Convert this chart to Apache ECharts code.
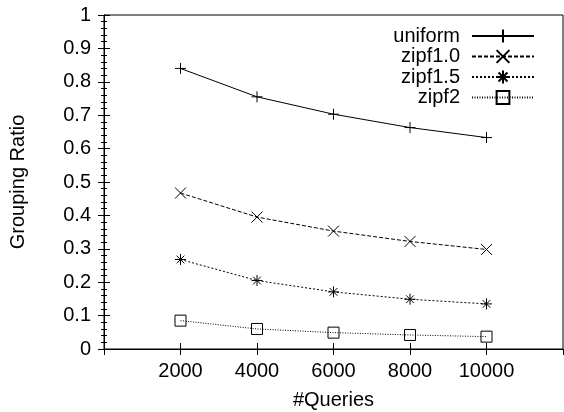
<!DOCTYPE html>
<html>
<head>
<meta charset="utf-8">
<script src="https://cdn.jsdelivr.net/npm/echarts@6/dist/echarts.min.js"></script>
<style>
  html, body { margin: 0; padding: 0; background: #fff; }
  #chart { width: 564px; height: 412px; }
</style>
</head>
<body>
<div id="chart"></div>
<script>
const queries = [2000, 4000, 6000, 8000, 10000];
const uniform = [0.840, 0.755, 0.703, 0.663, 0.633];
const zipf10 = [0.467, 0.395, 0.353, 0.322, 0.298];
const zipf15 = [0.268, 0.205, 0.171, 0.149, 0.135];
const zipf2 = [0.085, 0.060, 0.049, 0.042, 0.037];

const FONT = 'Liberation Sans';
const FS = 20;
const symPlus = 'path://M0,5L10,5M5,0L5,10';
const symCross = 'path://M0,0L10,10M0,10L10,0';
const symStar = 'path://M0,5L10,5M5,0L5,10M1.5,1.5L8.5,8.5M1.5,8.5L8.5,1.5';
const symBox = 'path://M0,0L10,0L10,10L0,10Z';

const pairs = (ys) => queries.map((x, i) => [x, ys[i]]);

const chart = echarts.init(document.getElementById('chart'));

// one series per curve, gnuplot-ish black styles
function mkSeries(name, ys, symbol, dash, size) {
  return {
    name: name,
    type: 'line',
    data: pairs(ys),
    symbol: symbol,
    symbolSize: size,
    color: '#000',
    lineStyle: { color: '#000', width: 1, type: dash },
    itemStyle: { color: 'none', borderColor: '#000', borderWidth: 1 },
    animation: false,
  };
}

const tickInside = { inside: true, length: 6, lineStyle: { color: '#000' } };

const option = {
  animation: false,
  grid: {
    left: 104, top: 15, right: 1, bottom: 63,
    outerBoundsMode: 'none',
    show: true, borderColor: '#000', borderWidth: 1,
  },
  legend: {
    orient: 'vertical',
    right: 24,
    top: 21,
    align: 'right',
    itemWidth: 62,
    itemHeight: 16,
    itemGap: 0.5,
    textStyle: { fontFamily: FONT, fontSize: FS, lineHeight: 20, color: '#000', padding: [0, 7, 0, 0] },
    data: ['uniform', 'zipf1.0', 'zipf1.5', 'zipf2'],
  },
  xAxis: [
    {
      type: 'value', min: 0, max: 12000, interval: 2000,
      name: '#Queries', nameLocation: 'middle', nameGap: 41,
      nameTextStyle: { fontFamily: FONT, fontSize: FS, color: '#000' },
      axisLine: { lineStyle: { color: '#000' } },
      axisTick: tickInside,
      axisLabel: {
        fontFamily: FONT, fontSize: FS, color: '#000', margin: 12,
        showMinLabel: false, showMaxLabel: false,
        formatter: (v) => String(v),
      },
      splitLine: { show: false },
    },
    {
      type: 'value', position: 'top', min: 0, max: 12000, interval: 2000,
      axisLine: { lineStyle: { color: '#000' } },
      axisTick: tickInside,
      axisLabel: { show: false },
      splitLine: { show: false },
    },
  ],
  yAxis: [
    {
      type: 'value', min: 0, max: 1, interval: 0.1,
      name: 'Grouping Ratio', nameLocation: 'middle', nameGap: 76,
      nameTextStyle: { fontFamily: FONT, fontSize: FS, color: '#000' },
      axisLine: { show: true, lineStyle: { color: '#000' } },
      axisTick: tickInside,
      minorTick: { show: true, splitNumber: 5, length: 3, lineStyle: { color: '#000' } },
      axisLabel: { fontFamily: FONT, fontSize: FS, color: '#000', margin: 13 },
      splitLine: { show: false },
    },
    {
      type: 'value', position: 'right', min: 0, max: 1, interval: 0.1,
      axisLine: { show: true, lineStyle: { color: '#000' } },
      axisTick: tickInside,
      minorTick: { show: true, splitNumber: 5, length: 3, lineStyle: { color: '#000' } },
      axisLabel: { show: false },
      splitLine: { show: false },
    },
  ],
  series: [
    mkSeries('uniform', uniform, symPlus, 'solid', 11),
    mkSeries('zipf1.0', zipf10, symCross, [4, 2], 11),
    mkSeries('zipf1.5', zipf15, symStar, [2, 2], 11),
    mkSeries('zipf2', zipf2, symBox, [1, 1.5], 11),
  ],
};

chart.setOption(option);
</script>
</body>
</html>
